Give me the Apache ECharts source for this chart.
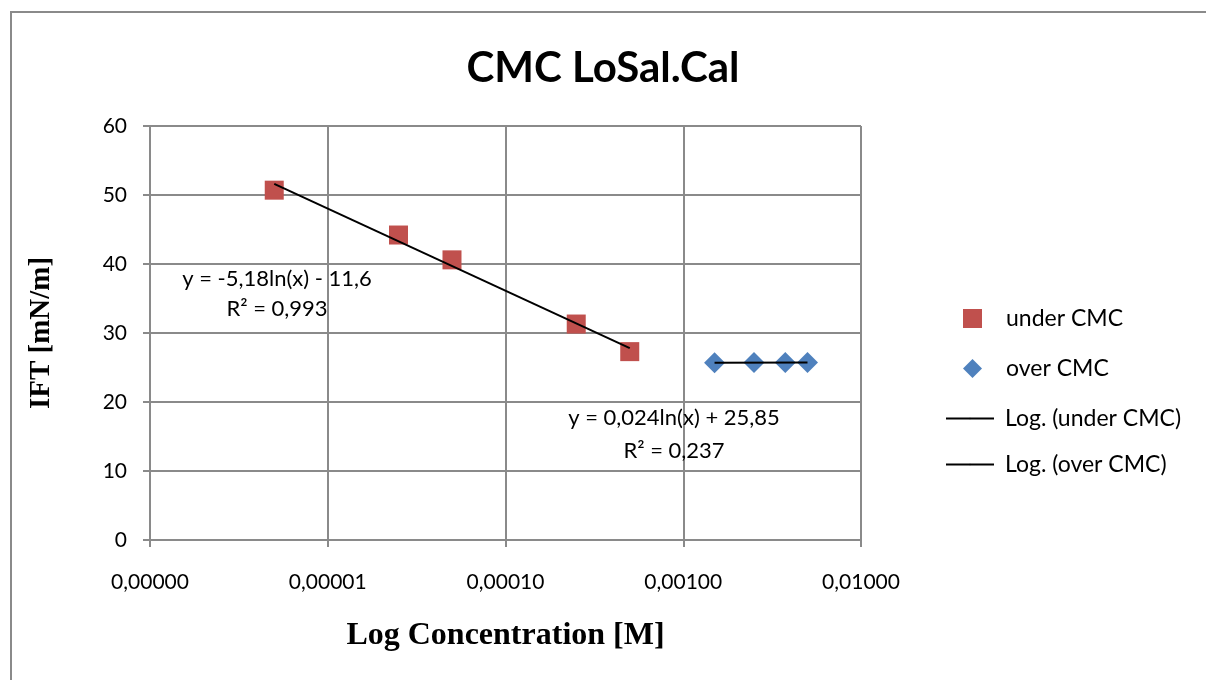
<!DOCTYPE html>
<html>
<head>
<meta charset="utf-8">
<script src="https://cdn.jsdelivr.net/npm/echarts@6/dist/echarts.min.js"></script>
<style>html,body{margin:0;padding:0;background:#fff}#c{width:1206px;height:680px}</style>
</head>
<body>
<div id="c"></div>
<script>
// Data
const underX = [0.000005, 0.000025, 0.00005, 0.00025, 0.0005];
const underY = [50.7, 44.2, 40.6, 31.3, 27.3];
const overX = [0.0015, 0.0025, 0.00375, 0.005];
const overY = [25.68, 25.73, 25.72, 25.72];
const underTrendX = [0.000005, 0.0005];
const underTrendY = [51.6, 27.8];
const overTrendX = [0.0015, 0.005];
const overTrendY = [25.69, 25.72];
const xTicks = [0.000001, 0.00001, 0.0001, 0.001, 0.01];
const yTicks = [0, 10, 20, 30, 40, 50, 60];
const seriesNames = ['under CMC', 'over CMC', 'Log. (under CMC)', 'Log. (over CMC)'];
const underEq = ['y = -5,18ln(x) - 11,6', 'R² = 0,993'];
const overEq = ['y = 0,024ln(x) + 25,85', 'R² = 0,237'];

const zip = (a, b) => a.map((v, i) => [v, b[i]]);
const font = 'Lato, "Open Sans", sans-serif';
const grey = '#8a8a8a';

const chart = echarts.init(document.getElementById('c'), null, {renderer: 'canvas'});
chart.setOption({
  animation: false,
  backgroundColor: '#fff',
  title: {
    text: 'CMC LoSal.Cal',
    left: 'center',
    top: 42,
    textStyle: {fontFamily: font, fontWeight: 'bold', fontSize: 42, color: '#000'}
  },
  grid: {left: 150, right: 345, top: 126, bottom: 140, containLabel: false},
  xAxis: {
    type: 'log', logBase: 10, min: xTicks[0], max: xTicks[xTicks.length - 1],
    name: 'Log Concentration [M]', nameLocation: 'middle', nameGap: 80,
    nameTextStyle: {fontFamily: '"Liberation Serif", serif', fontWeight: 'bold', fontSize: 32, color: '#000'},
    axisLine: {lineStyle: {color: grey, width: 2}},
    axisTick: {show: true, length: 7, lineStyle: {color: grey, width: 2}},
    minorTick: {show: false},
    splitLine: {show: true, lineStyle: {color: grey, width: 2}},
    axisLabel: {
      margin: 32, color: '#000', fontFamily: font, fontSize: 21,
      formatter: v => v.toFixed(5).replace('.', ',')
    }
  },
  yAxis: {
    type: 'value', min: yTicks[0], max: yTicks[yTicks.length - 1], interval: 10,
    name: 'IFT [mN/m]', nameLocation: 'middle', nameGap: 94, nameRotate: 90,
    nameTextStyle: {fontFamily: '"Liberation Serif", serif', fontWeight: 'bold', fontSize: 29, color: '#000'},
    axisLine: {show: true, lineStyle: {color: grey, width: 2}},
    axisTick: {show: true, length: 7, lineStyle: {color: grey, width: 2}},
    splitLine: {show: true, lineStyle: {color: grey, width: 2}},
    axisLabel: {margin: 23, color: '#000', fontFamily: font, fontSize: 21}
  },
  legend: [
    {
      data: [{name: seriesNames[0], icon: 'rect'}, {name: seriesNames[1], icon: 'diamond'}],
      orient: 'vertical', left: 963, top: 307, padding: 0,
      itemWidth: 19, itemHeight: 19, itemGap: 27,
      textStyle: {fontFamily: font, fontSize: 23, color: '#000', padding: [0, 0, 0, 19]}
    },
    {
      data: [seriesNames[2], seriesNames[3]],
      orient: 'vertical', left: 945, top: 407, padding: 0,
      itemWidth: 48, itemHeight: 2, itemGap: 23,
      textStyle: {fontFamily: font, fontSize: 23, color: '#000', padding: [0, 0, 0, 6]}
    }
  ],
  graphic: [
    {type: 'rect', silent: true, z: -10, shape: {x: 11, y: 12, width: 1400, height: 900},
     style: {fill: 'none', stroke: grey, lineWidth: 2}},
    {type: 'text', x: 277, y: 279, style: {text: underEq[0], font: '22px ' + font, fill: '#000', align: 'center', verticalAlign: 'middle'}, z: 10},
    {type: 'text', x: 277, y: 309, style: {text: underEq[1], font: '22px ' + font, fill: '#000', align: 'center', verticalAlign: 'middle'}, z: 10},
    {type: 'text', x: 674, y: 418, style: {text: overEq[0], font: '22px ' + font, fill: '#000', align: 'center', verticalAlign: 'middle'}, z: 10},
    {type: 'text', x: 674, y: 451, style: {text: overEq[1], font: '22px ' + font, fill: '#000', align: 'center', verticalAlign: 'middle'}, z: 10}
  ],
  series: [
    {name: seriesNames[0], type: 'scatter', data: zip(underX, underY), symbol: 'rect', symbolSize: 19,
     itemStyle: {color: '#c0504d', opacity: 1}, z: 2},
    {name: seriesNames[1], type: 'scatter', data: zip(overX, overY), symbol: 'diamond', symbolSize: [21, 21],
     itemStyle: {color: '#4f81bd', opacity: 1}, z: 2},
    {name: seriesNames[2], type: 'line', data: zip(underTrendX, underTrendY), showSymbol: false, symbol: 'none',
     lineStyle: {color: '#000', width: 2}, itemStyle: {color: '#000'}, z: 3},
    {name: seriesNames[3], type: 'line', data: zip(overTrendX, overTrendY), showSymbol: false, symbol: 'none',
     lineStyle: {color: '#000', width: 2}, itemStyle: {color: '#000'}, z: 3}
  ]
});
</script>
</body>
</html>
